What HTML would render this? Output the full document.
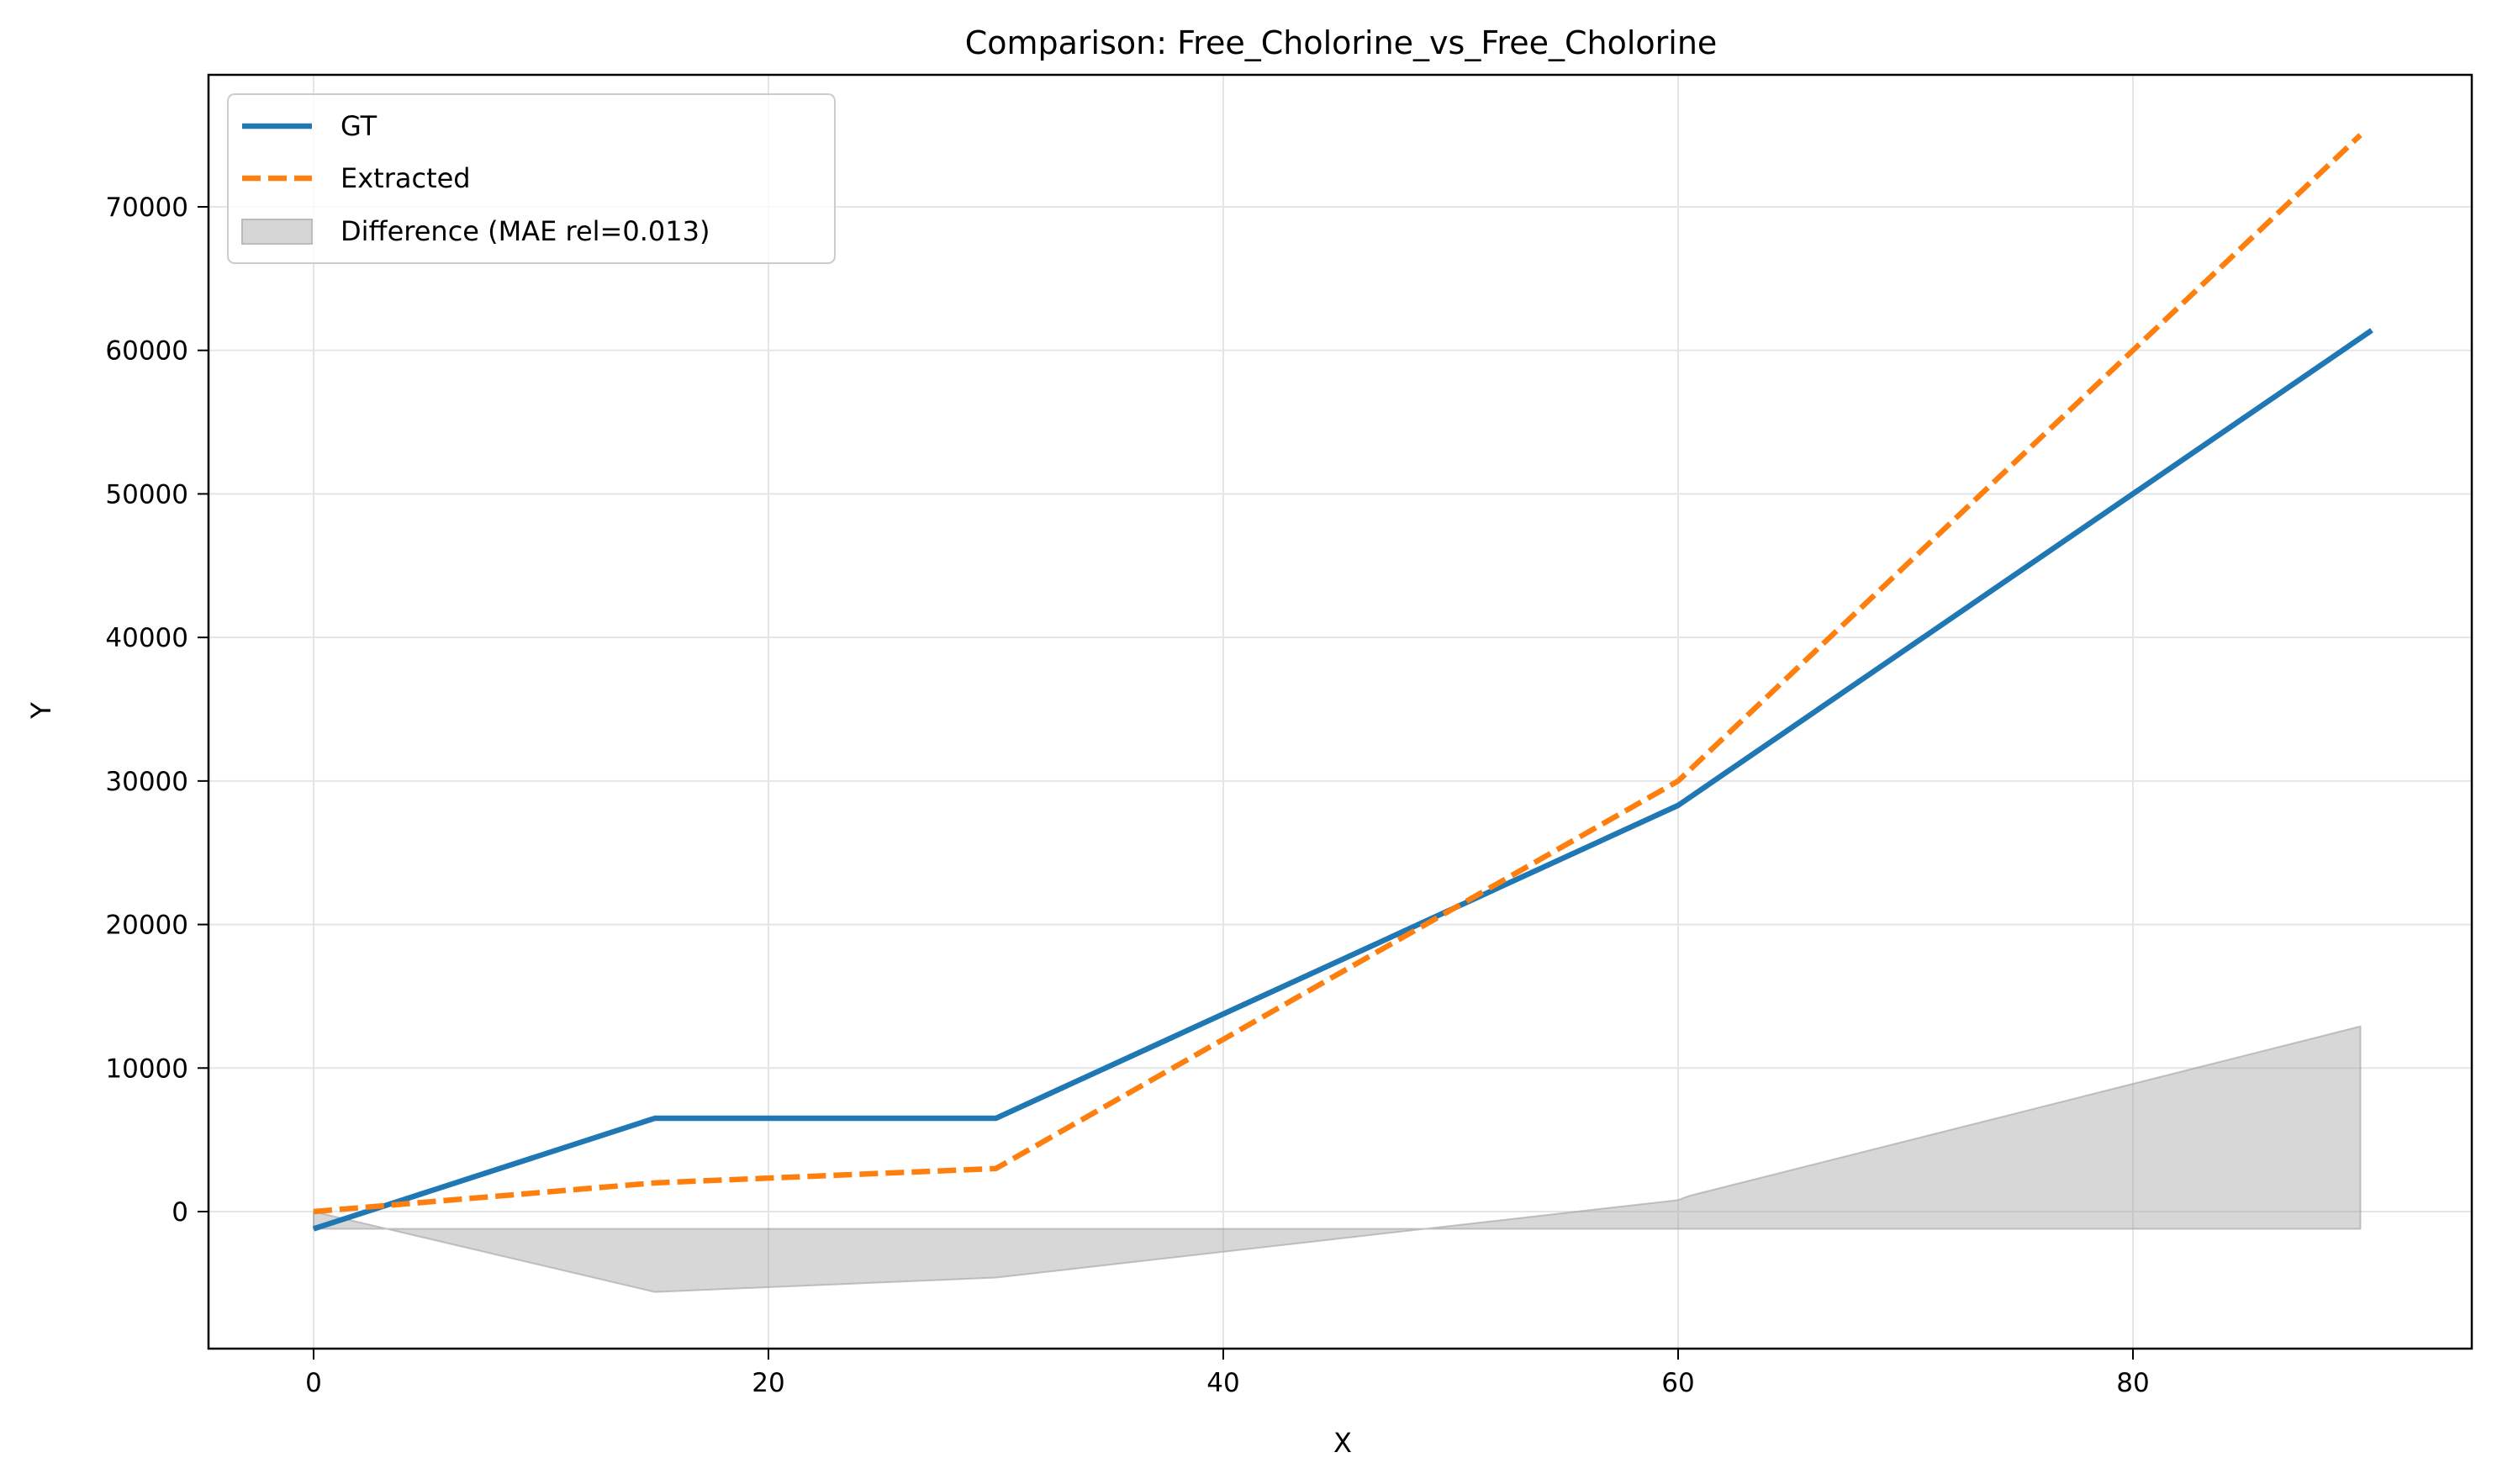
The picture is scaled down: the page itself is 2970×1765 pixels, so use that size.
<!DOCTYPE html>
<html><head><meta charset="utf-8"><style>
html,body{margin:0;padding:0;background:#fff;}
svg{display:block;font-family:"DejaVu Sans","Liberation Sans",sans-serif;}
</style></head><body>
<svg id="chart" width="2970" height="1765" viewBox="0 0 2970 1765" xmlns="http://www.w3.org/2000/svg">
<rect x="0" y="0" width="2970" height="1765" fill="#fff"/>
<g id="grid"></g>
<g id="fill"></g>
<g id="lines"></g>
<g id="axes"></g>
<text x="1595" y="64" font-size="38" text-anchor="middle" fill="#000">Comparison: Free_Cholorine_vs_Free_Cholorine</text>
<text x="1597" y="1727" font-size="32" text-anchor="middle" fill="#000">X</text>
<text x="0" y="0" font-size="32" text-anchor="middle" fill="#000" transform="translate(60,845) rotate(-90)">Y</text>
<g>
<rect x="271" y="112" width="722" height="201" rx="8" fill="#fff" fill-opacity="0.8" stroke="#ccc" stroke-width="2"/>
<line x1="288" y1="150" x2="371" y2="150" stroke="#1f77b4" stroke-width="6.5"/>
<text x="405" y="161" font-size="32">GT</text>
<line x1="288" y1="212" x2="371" y2="212" stroke="#ff7f0e" stroke-width="6.5" stroke-dasharray="22,9"/>
<text x="405" y="223" font-size="32">Extracted</text>
<rect x="288" y="261" width="83" height="29" fill="#d6d6d6" stroke="#bbb" stroke-width="2"/>
<text x="405" y="286" font-size="32">Difference (MAE rel=0.013)</text>
</g>
</svg>
<script>
const gtX = [0, 15, 30, 60, 90.5];
const gtY = [-1200, 6500, 6500, 28300, 61400];
const exX = [0, 15, 30, 60, 90];
const exY = [0, 2000, 3000, 30000, 75000];
const fillX = [0, 15, 30, 60, 60.5, 90];
const fillY = [0, -5600, -4600, 800, 1100, 12900];
const fillBase = -1200;
const xTicks = [0, 20, 40, 60, 80];
const yTicks = [0, 10000, 20000, 30000, 40000, 50000, 60000, 70000];

const L = 248, R = 2940, T = 89, B = 1604;
const sx = v => 373 + v * 27.05;
const sy = v => 1441 - v * (1195 / 70000);
const NS = 'http://www.w3.org/2000/svg';
function mk(tag, attrs, parent) {
  const e = document.createElementNS(NS, tag);
  for (const k in attrs) e.setAttribute(k, attrs[k]);
  parent.appendChild(e);
  return e;
}
const grid = document.getElementById('grid');
const axes = document.getElementById('axes');
xTicks.forEach(v => {
  const g = mk('line', {x1: sx(v), x2: sx(v), y1: T, y2: B, stroke: '#e5e5e5', 'stroke-width': 2}, grid);
  
  
  const t = mk('line', {x1: sx(v), x2: sx(v), y1: B, y2: B + 13, stroke: '#000', 'stroke-width': 2}, axes);
  
  
  const l = mk('text', {x: sx(v), y: B + 51, 'font-size': 31, 'text-anchor': 'middle'}, axes);
  l.textContent = v;
  
  
});
yTicks.forEach(v => {
  const g = mk('line', {x1: L, x2: R, y1: sy(v), y2: sy(v), stroke: '#e5e5e5', 'stroke-width': 2}, grid);
  
  
  const t = mk('line', {x1: L - 13, x2: L, y1: sy(v), y2: sy(v), stroke: '#000', 'stroke-width': 2}, axes);
  
  
  const l = mk('text', {x: L - 24, y: sy(v) + 11, 'font-size': 31, 'text-anchor': 'end'}, axes);
  l.textContent = v;
  
  
});
const frame = mk('rect', {x: L, y: T, width: R - L, height: B - T, fill: 'none', stroke: '#000', 'stroke-width': 2.5}, axes);



let pts = fillX.map((x, i) => sx(x) + ',' + sy(fillY[i]));
for (let i = fillX.length - 1; i >= 0; i--) pts.push(sx(fillX[i]) + ',' + sy(fillBase));
const poly = mk('polygon', {points: pts.join(' '), fill: '#a0a0a0', 'fill-opacity': 0.42, stroke: '#a0a0a0', 'stroke-opacity': 0.6, 'stroke-width': 2}, document.getElementById('fill'));



const lines = document.getElementById('lines');
const gt = mk('polyline', {points: gtX.map((x, i) => sx(x) + ',' + sy(gtY[i])).join(' '), fill: 'none', stroke: '#1f77b4', 'stroke-width': 6.5, 'stroke-linejoin': 'round'}, lines);


const ex = mk('polyline', {points: exX.map((x, i) => sx(x) + ',' + sy(exY[i])).join(' '), fill: 'none', stroke: '#ff7f0e', 'stroke-width': 6.5, 'stroke-dasharray': '22,9'}, lines);


</script>
</body></html>
